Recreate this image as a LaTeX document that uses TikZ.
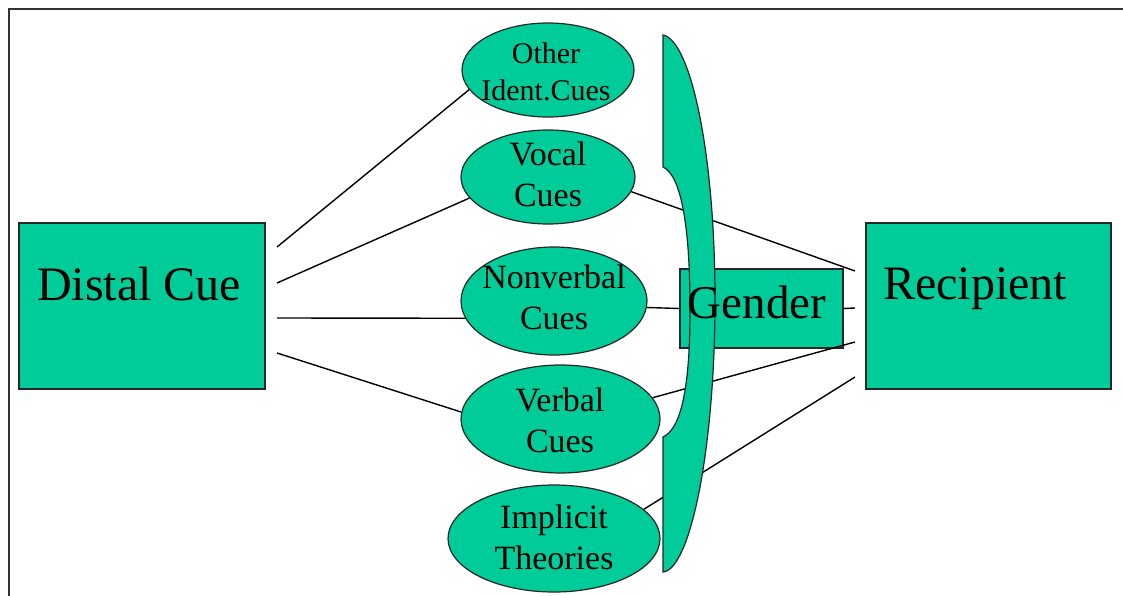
\documentclass[tikz,border=0pt]{standalone}
\usepackage{fontspec}
\setmainfont{Liberation Serif}
\usetikzlibrary{shapes.geometric}
\definecolor{cuegreen}{RGB}{0,204,153}
\tikzset{
	cuebox/.style={rectangle, draw=black!85, line width=1.2pt, fill=cuegreen, inner sep=0pt},
	cueoval/.style={ellipse, draw=black!85, line width=1.2pt, fill=cuegreen, inner sep=0pt},
	cuetext/.style={align=center, inner sep=0pt, font=\fontsize{34pt}{41pt}\selectfont},
	bigtext/.style={anchor=base, inner sep=0pt, font=\fontsize{48pt}{56pt}\selectfont},
	link/.style={line width=1.4pt, black}
}
\begin{document}
\begin{tikzpicture}[x=1pt,y=-1pt]
	\useasboundingbox (0,0) rectangle (1123,596);
	%cadre
	\draw[line width=1.6pt, black!80] (1123,9) -- (9,9) -- (9,596);
	%boîtes
	\node[cuebox, minimum width=246pt, minimum height=166pt] (dist) at (142,306) {};
	\node[cuebox, minimum width=245pt, minimum height=166pt] (rec) at (988.5,306) {};
	\node[cuebox, minimum width=163pt, minimum height=79pt] (gen) at (761.5,308.5) {};
	\node[bigtext] (disttxt) at (139,300) {Distal Cue};
	\node[bigtext] (rectxt) at (975,299) {Recipient};
	%indices
	\node[cueoval, minimum width=172pt, minimum height=94pt] (other) at (548,70) {};
	\node[cueoval, minimum width=174pt, minimum height=94pt] (vocal) at (548,177) {};
	\node[cueoval, minimum width=186pt, minimum height=108pt] (nonv) at (554,301) {};
	\node[cueoval, minimum width=199pt, minimum height=108pt] (verbal) at (560.5,419) {};
	\node[cueoval, minimum width=212pt, minimum height=107pt] (impl) at (554,538.5) {};
	\node[cuetext, font=\fontsize{30pt}{37pt}\selectfont] (othertxt) at (546,72) {Other\\Ident.Cues};
	\node[cuetext] (vocaltxt) at (548,174) {Vocal\\Cues};
	\node[cuetext] (nonvtxt) at (554,297) {Nonverbal\\Cues};
	\node[cuetext] (verbaltxt) at (560,420) {Verbal\\Cues};
	\node[cuetext] (impltxt) at (554,537) {Implicit\\Theories};
	%liens avec Distal Cue
	\coordinate (d1) at (277,247);
	\coordinate (d2) at (277,283);
	\coordinate (d3) at (277,318);
	\coordinate (d4) at (277,353);
	\draw[link] (d1) -- (other.194);
	\draw[link] (d2) -- (vocal.195);
	\draw[link] (d3) -- (nonv.191);
	\draw[link] (d4) -- (verbal.176);
	%liens avec Recipient
	\coordinate (r1) at (855,271);
	\coordinate (r2) at (855,308);
	\coordinate (r3) at (855,342);
	\coordinate (r4) at (855,377);
	\draw[link] (vocal.-10) -- (r1);
	\draw[link] (nonv.-4) -- (gen.west);
	\draw[link] (gen.east) -- (r2);
	\draw[link] (verbal.13) -- (r3);
	\draw[link] (impl.18) -- (r4);
	%accolade
	\draw[draw=black!85, line width=1.2pt, fill=cuegreen] (663,35) .. controls (690,40) and (715,150) .. (715,300)
		.. controls (715,450) and (690,570) .. (663,572) -- (663,437)
		.. controls (678,430) and (690,400) .. (690,310)
		.. controls (690,220) and (680,175) .. (663,167) -- cycle;
	\node[bigtext, font=\fontsize{47pt}{56pt}\selectfont] (gentxt) at (757,318) {Gender};
\end{tikzpicture}
\end{document}
